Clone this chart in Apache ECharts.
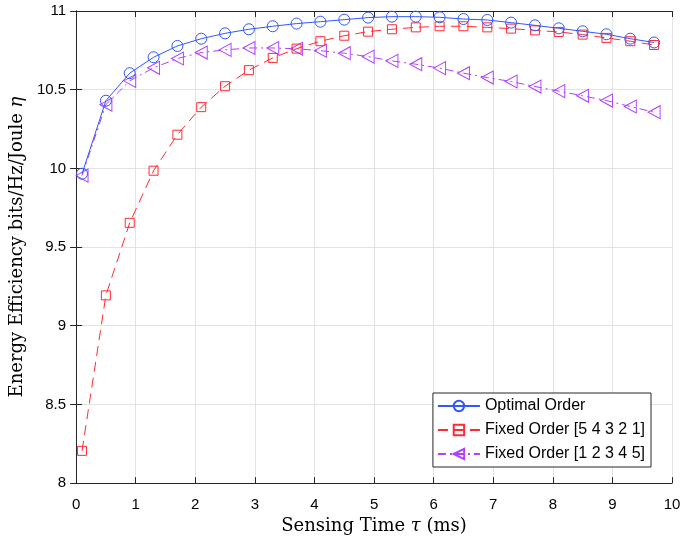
<!DOCTYPE html>
<html>
<head>
<meta charset="utf-8">
<script src="https://cdn.jsdelivr.net/npm/echarts@6/dist/echarts.min.js"></script>
<style>html,body{margin:0;padding:0;background:#fff;}#c{width:685px;height:540px;}</style>
</head>
<body>
<div id="c"></div>
<script>
var xValues = [0.1,0.5,0.9,1.3,1.7,2.1,2.5,2.9,3.3,3.7,4.1,4.5,4.9,5.3,5.7,6.1,6.5,6.9,7.3,7.7,8.1,8.5,8.9,9.3,9.7];
var optimalOrder = [9.966,10.43,10.605,10.706,10.778,10.824,10.858,10.884,10.903,10.92,10.932,10.945,10.958,10.964,10.964,10.96,10.949,10.943,10.926,10.909,10.89,10.871,10.852,10.824,10.8];
var fixedOrder54321 = [8.205,9.193,9.654,9.985,10.214,10.389,10.522,10.624,10.702,10.761,10.808,10.843,10.869,10.884,10.896,10.903,10.903,10.896,10.888,10.877,10.867,10.85,10.829,10.808,10.784];
var fixedOrder12345 = [9.954,10.405,10.556,10.639,10.698,10.736,10.753,10.765,10.765,10.76,10.748,10.732,10.71,10.683,10.662,10.637,10.605,10.577,10.552,10.52,10.491,10.461,10.431,10.393,10.357];
var seriesNames = ['Optimal Order','Fixed Order [5 4 3 2 1]','Fixed Order [1 2 3 4 5]'];
var xTitle = '{n|Sensing Time }{i|\u03c4}{n| (ms)}';
var yTitle = '{n|Energy Efficiency bits/Hz/Joule }{i|\u03b7}';

function pairs(ys){ return xValues.map(function(x,i){ return [x, ys[i]]; }); }

var chart = echarts.init(document.getElementById('c'), null, {renderer:'canvas'});
var tickFont = {fontFamily:'Liberation Sans, Arial, sans-serif', fontSize:15, color:'#000'};
var axisLineStyle = {lineStyle:{color:'#262626', width:1}};
var gridLine = {show:true, lineStyle:{color:'#e3e3e3', width:1}};
var serif = 'DejaVu Serif, Liberation Serif, serif';
var titleStyle = {fontFamily:serif, fontSize:18, color:'#000',
  rich:{n:{fontFamily:serif, fontSize:18, color:'#000'}, i:{fontFamily:serif, fontSize:18, fontStyle:'italic', color:'#000'}}};
var hollow = 'rgba(255,255,255,0)';
chart.setOption({
  animation:false,
  backgroundColor:'#fff',
  grid:{left:72, top:11, right:13, bottom:56, containLabel:false},
  xAxis:[{
    type:'value', min:0, max:10, interval:1, position:'bottom',
    axisLine:axisLineStyle, axisTick:{inside:true, length:6, lineStyle:{color:'#262626'}},
    axisLabel:Object.assign({margin:14}, tickFont),
    splitLine:gridLine,
    name:xTitle, nameLocation:'middle', nameGap:33,
    nameTextStyle:titleStyle
  },{
    type:'value', min:0, max:10, interval:1, position:'top',
    axisLine:axisLineStyle, axisTick:{inside:true, length:6, lineStyle:{color:'#262626'}},
    axisLabel:{show:false}, splitLine:{show:false}
  }],
  yAxis:[{
    type:'value', min:8, max:11, interval:0.5, position:'left',
    axisLine:axisLineStyle, axisTick:{inside:true, length:6, lineStyle:{color:'#262626'}},
    axisLabel:Object.assign({margin:10}, tickFont),
    splitLine:gridLine,
    name:yTitle, nameLocation:'middle', nameGap:48, nameRotate:90,
    nameTextStyle:titleStyle
  },{
    type:'value', min:8, max:11, interval:0.5, position:'right',
    axisLine:axisLineStyle, axisTick:{inside:true, length:6, lineStyle:{color:'#262626'}},
    axisLabel:{show:false}, splitLine:{show:false}
  }],
  legend:{
    orient:'vertical', right:34, bottom:73,
    backgroundColor:'#fff', borderColor:'#262626', borderWidth:1,
    padding:[5,6,5,4], itemGap:8, itemWidth:42, itemHeight:13,
    textStyle:{fontFamily:'Liberation Sans, Arial, sans-serif', fontSize:16, color:'#000'},
    data:seriesNames
  },
  series:[{
    name:seriesNames[0], type:'line', data:pairs(optimalOrder),
    symbol:'circle', symbolSize:11,
    itemStyle:{color:hollow, borderColor:'#3256ff', borderWidth:1},
    lineStyle:{color:'#3256ff', width:1}, color:'#3256ff', z:3
  },{
    name:seriesNames[1], type:'line', data:pairs(fixedOrder54321),
    symbol:'rect', symbolSize:9,
    itemStyle:{color:hollow, borderColor:'#ff2a35', borderWidth:1},
    lineStyle:{color:'#ff2a35', width:1, type:[10,6]}, color:'#ff2a35', z:2
  },{
    name:seriesNames[2], type:'line', data:pairs(fixedOrder12345),
    symbol:'triangle', symbolSize:[13,12], symbolRotate:90,
    itemStyle:{color:hollow, borderColor:'#b040ff', borderWidth:1},
    lineStyle:{color:'#b040ff', width:1, type:[8,4,2,4]}, color:'#b040ff', z:1
  }]
});
</script>
</body>
</html>
